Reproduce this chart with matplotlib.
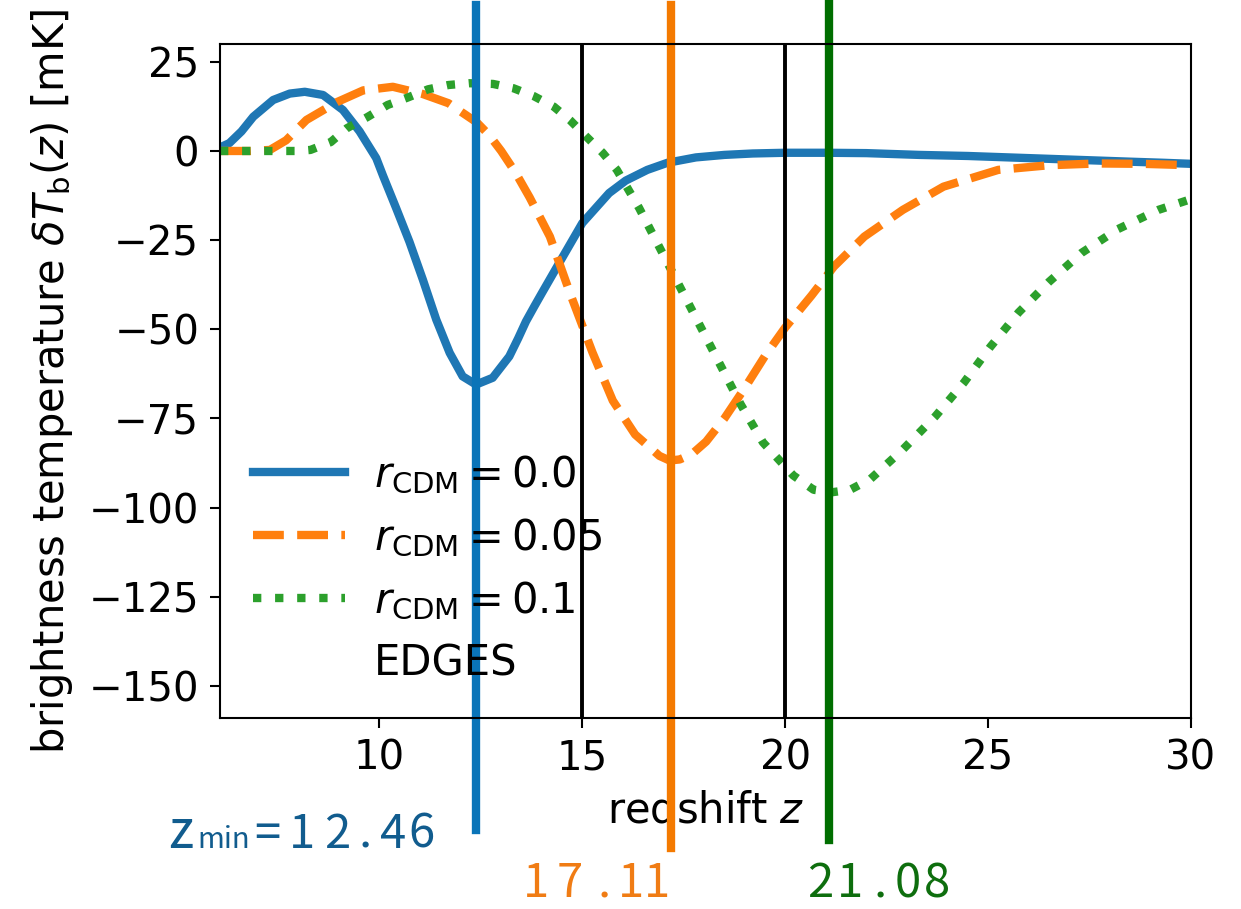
import matplotlib
matplotlib.use("Agg")
import matplotlib.pyplot as plt
from matplotlib.lines import Line2D

# ---- data ----
z_blue = [6.07, 6.3, 6.6, 6.89, 7.38, 7.79, 8.16, 8.61, 9.1, 9.51, 9.92, 10.09, 10.41, 10.74, 11.07,
          11.4, 11.73, 12.05, 12.38, 12.79, 13.2, 13.42, 13.61, 13.82, 14.02, 14.43, 15.0, 15.66,
          16.07, 16.6, 17.1, 17.8, 18.5, 19.2, 20.0, 21.0, 22.0, 23.3, 24.5, 25.5, 26.5, 27.5,
          28.5, 29.3, 30.0]
T_blue = [1.0, 2.2, 5.5, 9.6, 14.3, 16.1, 16.6, 15.7, 11.5, 5.5, -2.0, -7.0, -16.0, -25.5, -36.1,
          -47.3, -56.6, -63.2, -65.5, -63.6, -57.6, -52.5, -47.8, -43.5, -39.5, -31.4, -20.2,
          -11.8, -8.3, -5.3, -3.3, -1.8, -1.1, -0.7, -0.5, -0.5, -0.6, -1.1, -1.4, -1.8, -2.2,
          -2.6, -3.0, -3.3, -3.6]

z_orange = [6.07, 6.8, 7.3, 7.7, 8.2, 8.95, 9.6, 10.33, 11.06, 11.7, 12.4, 12.7, 13.0, 13.35,
            13.7, 14.2, 14.7, 15.25, 15.75, 16.3, 16.9, 17.15, 17.4, 17.7, 18.05, 18.5, 19.0,
            19.5, 20.0, 20.65, 21.2, 21.95, 22.9, 23.9, 25.25, 26.5, 27.7, 28.8, 30.0]
T_orange = [0.0, 0.0, 0.3, 3.0, 8.7, 13.7, 17.0, 18.0, 16.0, 13.4, 8.0, 4.5, 0.0, -6.0,
            -13.0, -24.0, -40.0, -56.5, -70.0, -79.5, -85.5, -86.8, -86.5, -85.0, -81.5, -75.0,
            -66.5, -57.5, -49.5, -40.5, -32.4, -24.0, -16.5, -10.0, -5.3, -4.0, -3.5, -3.6, -4.0]

z_green = [6.07, 7.0, 8.0, 8.3, 8.8, 9.2, 9.7, 10.2, 10.7, 11.2, 11.7, 12.2, 12.8, 13.3, 13.8, 14.3,
           14.7, 15.1, 15.5, 15.85, 16.4, 16.9, 17.4, 17.9, 18.4, 18.9, 19.45, 20.2, 20.7, 21.15, 21.6,
           22.1, 22.9, 23.7, 24.4, 25.05, 25.75, 26.5, 27.3, 28.2, 29.2, 30.0]
T_green = [0.0, 0.0, 0.0, 0.3, 2.5, 6.4, 9.5, 12.9, 15.0, 17.3, 18.5, 19.0, 18.8, 17.6, 15.4, 12.4,
           8.6, 4.0, -0.5, -5.3, -16.0, -27.0, -38.0, -49.0, -60.0, -71.0, -81.7, -91.0, -95.0, -95.7, -95.0,
           -92.0, -83.7, -74.4, -65.0, -55.0, -45.3, -36.7, -28.6, -21.9, -16.5, -13.5]

labels = [r"$r_{\rm CDM}=0.0$", r"$r_{\rm CDM}=0.05$", r"$r_{\rm CDM}=0.1$", "EDGES"]
edges_z = [15, 20]
zmin_line = [12.37, 17.18, 21.07]          # where the vertical lines are drawn
zmin_labels = ["12.46", "17.11", "21.08"]   # printed values
xticks = [10, 15, 20, 25, 30]
yticks = [25, 0, -25, -50, -75, -100, -125, -150]

plt.rcParams['font.size'] = 30
plt.rcParams['mathtext.fontset'] = 'dejavusans'

W, H = 1241, 909
fig = plt.figure(figsize=(W / 100, H / 100), dpi=100)
ax = fig.add_axes([220 / W, 1 - 718 / H, 971 / W, 674 / H])

lw = 6
kw = dict(lw=lw, solid_joinstyle='round', dash_joinstyle='round')
ax.plot(z_blue, T_blue, color='tab:blue', ls='-', label=labels[0], **kw)
ax.plot(z_orange, T_orange, color='tab:orange', ls='--', label=labels[1], **kw)
ax.plot(z_green, T_green, color='tab:green', ls=':', label=labels[2], **kw)
for ez in edges_z:
    ax.axvline(ez, color='black', lw=2.8)

ax.set_xlim(6.07, 30)
ax.set_ylim(-159, 30)
ax.set_xticks(xticks)
ax.set_yticks(yticks)
ax.tick_params(length=7, width=1.5, labelsize=29, pad=8)
for s in ax.spines.values():
    s.set_linewidth(1.5)

ax.set_xlabel("redshift $z$", fontsize=30, labelpad=8)
ax.set_ylabel(r"brightness temperature $\delta T_{\rm b}(z)$ [mK]", fontsize=30, labelpad=10)

handles, labs = ax.get_legend_handles_labels()
handles.append(Line2D([], [], ls='none'))
labs.append(labels[3])
ax.legend(handles, labs, loc='lower left', frameon=False, fontsize=30, handlelength=2.2,
          handletextpad=0.7, labelspacing=0.5, borderaxespad=0.4)

# vertical z_min lines extending outside the axes
vcols = ['#0a74b8', '#f47a00', '#006e00']
vext = [(-0.166, 1.058), (-0.193, 1.058), (-0.181, 1.066)]
for zv, c, (y0, y1) in zip(zmin_line, vcols, vext):
    ax.axvline(zv, ymin=y0, ymax=y1, color=c, lw=6, clip_on=False)

# annotation texts, set character by character (pixel layout)
cjk = ['Noto Sans CJK JP', 'DejaVu Sans']
def put(s, x, y, size, color):
    fig.text(x / W, 1 - y / H, s, fontsize=size, color=color, ha='center', va='baseline', family=cjk)

def put_value(s, xs, y, color):
    for ch, x in zip(s, xs):
        put(ch, x, y, 34, color)

blue_t, orange_t, green_t = '#115c8e', '#f07c14', '#0e6e0e'
put("z", 181, 848, 38, blue_t)
put("min", 224, 848, 21, blue_t)
put("=", 267, 848, 34, blue_t)
put_value(zmin_labels[0], [302, 337, 365, 393, 421], 848, blue_t)
put_value(zmin_labels[1], [536, 570, 604, 631, 657], 897, orange_t)
put_value(zmin_labels[2], [820, 850, 880, 908, 937], 897, green_t)

fig.savefig("out.png", dpi=100)
